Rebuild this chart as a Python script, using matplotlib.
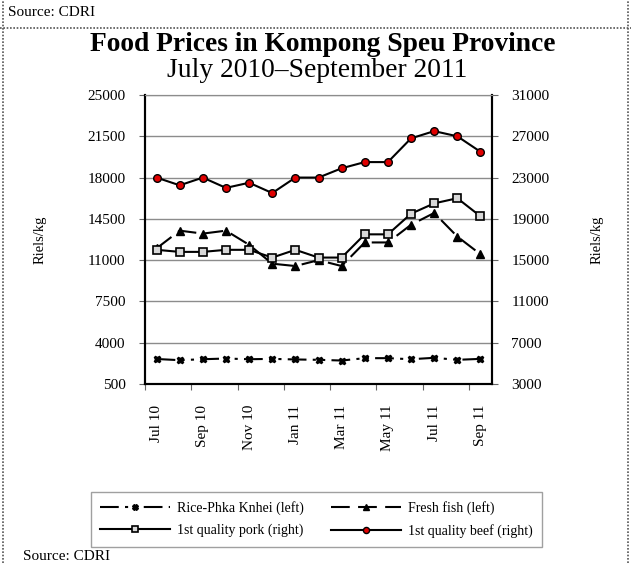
import matplotlib
matplotlib.use("Agg")
import matplotlib.pyplot as plt
from matplotlib.lines import Line2D

plt.rcParams['font.family'] = ['Liberation Serif', 'DejaVu Serif']

months = ["Jul 10", "Aug 10", "Sep 10", "Oct 10", "Nov 10", "Dec 10", "Jan 11", "Feb 11",
          "Mar 11", "Apr 11", "May 11", "Jun 11", "Jul 11", "Aug 11", "Sep 11"]
rice = [2620, 2520, 2600, 2660, 2600, 2630, 2580, 2550, 2490, 2690, 2690, 2600, 2720, 2550, 2630]
fish = [12000, 13500, 13250, 13500, 12300, 10700, 10500, 11000, 10500, 12500, 12500, 14000, 15000, 13000, 11500]
pork = [16000, 15800, 15800, 16000, 16000, 15250, 16000, 15250, 15250, 17500, 17500, 19500, 20500, 21000, 19250]
beef = [23000, 22250, 23000, 22000, 22500, 21500, 23000, 23000, 23900, 24500, 24500, 26800, 27500, 27000, 25500]

left_ticks = [500, 4000, 7500, 11000, 14500, 18000, 21500, 25000]
right_ticks = [3000, 7000, 11000, 15000, 19000, 23000, 27000, 31000]

W, H = 631, 563
fig = plt.figure(figsize=(W / 100, H / 100), dpi=100)

ax = fig.add_axes([145 / W, 1 - 384 / H, (492 - 145) / W, (384 - 95) / H])
ax2 = ax.twinx()

x = list(range(len(months)))
lw = 1.5
l1, = ax.plot(x, rice, color='black', lw=lw, dashes=(9, 3, 1.5, 3, 1.5, 3),
              marker='X', markersize=5, markerfacecolor='black', markeredgecolor='black',
              label='Rice-Phka Knhei (left)')
l2, = ax.plot(x, fish, color='black', lw=lw, dashes=(9, 4),
              marker='^', markersize=6, markerfacecolor='black', label='Fresh fish (left)')
l3, = ax2.plot(x, pork, color='black', lw=lw, marker='s', markersize=5.5,
               markerfacecolor='#d8d8d8', markeredgecolor='black', markeredgewidth=1.2,
               label='1st quality pork (right)')
l4, = ax2.plot(x, beef, color='black', lw=lw, marker='o', markersize=5.5,
               markerfacecolor='#e00000', markeredgecolor='black', markeredgewidth=1.0,
               label='1st quality beef (right)')

ax.set_xlim(-0.5, len(months) - 0.5)
ax.set_ylim(left_ticks[0], left_ticks[-1])
ax2.set_ylim(right_ticks[0], right_ticks[-1])
ax.set_yticks(left_ticks)
ax2.set_yticks(right_ticks)
ax.set_yticklabels([str(v) for v in left_ticks])
ax2.set_yticklabels([str(v) for v in right_ticks])
ax.grid(axis='y', color='#8c8c8c', lw=1.0)
ax.set_axisbelow(True)

ax.set_xticks([i - 0.5 for i in range(0, len(months), 2)])
ax.set_xticklabels([])
ax.set_xticks(list(range(0, len(months), 2)), minor=True)
ax.set_xticklabels([months[i] for i in range(0, len(months), 2)], minor=True, rotation=90)
ax.tick_params(axis='x', which='minor', length=0, pad=15, labelsize=11)
ax.tick_params(axis='x', which='major', length=4, direction='out', color='#666666')
ax.tick_params(axis='y', length=4, direction='out', labelsize=11, pad=10, color='#666666')
ax2.tick_params(axis='y', length=4, direction='out', labelsize=11, pad=10, color='#666666')

for a in (ax, ax2):
    a.spines['top'].set_color('#8c8c8c')
    a.spines['left'].set_linewidth(1.5)
    a.spines['right'].set_linewidth(1.5)
    a.spines['bottom'].set_linewidth(1.5)

fig.text(40 / W, 1 - 240 / H, 'Riels/kg', rotation=90, ha='center', va='center', fontsize=10.5)
fig.text(597 / W, 1 - 240 / H, 'Riels/kg', rotation=90, ha='center', va='center', fontsize=10.5)

fig.text(323 / W, 1 - 51 / H, 'Food Prices in Kompong Speu Province', ha='center', va='baseline',
         fontsize=19.8, fontweight='bold')
fig.text(317 / W, 1 - 77 / H, 'July 2010\u2013September 2011', ha='center', va='baseline',
         fontsize=19.8)

fig.text(8 / W, 1 - 12 / H, 'Source: CDRI', ha='left', va='center', fontsize=11)
fig.text(23 / W, 1 - 550 / H, 'Source: CDRI', ha='left', va='top', fontsize=11)

fig.add_artist(Line2D([0, 1], [1 - 28 / H, 1 - 28 / H], transform=fig.transFigure,
                      color='#555555', lw=1.2, ls=(0, (1, 1))))
fig.add_artist(Line2D([3 / W, 3 / W], [0, 1], transform=fig.transFigure,
                      color='#555555', lw=1.2, ls=(0, (1, 1))))
fig.add_artist(Line2D([628 / W, 628 / W], [0, 1], transform=fig.transFigure,
                      color='#555555', lw=1.2, ls=(0, (1, 1))))

leg = fig.legend(handles=[l1, l3, l2, l4], ncol=2, loc='center',
                 bbox_to_anchor=(((92 + 541) / 2) / W, 1 - ((492 + 547) / 2) / H),
                 frameon=True, fancybox=False, edgecolor='#888888', fontsize=10,
                 handlelength=5.0, columnspacing=2.0, borderpad=0.65, labelspacing=0.6,
                 numpoints=1, markerscale=0.8, handletextpad=0.5)
leg.get_frame().set_linewidth(1.0)

fig.savefig('out.png', dpi=100)
